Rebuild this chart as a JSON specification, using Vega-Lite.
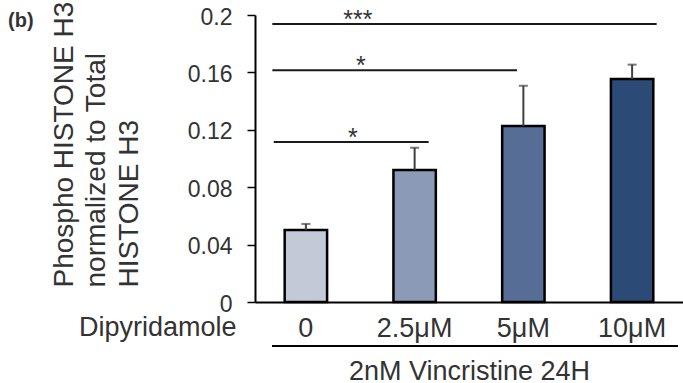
{
  "$schema": "https://vega.github.io/schema/vega-lite/v6.json",
  "width": 428,
  "height": 287,
  "autosize": {"type": "none"},
  "padding": {"left": 255, "top": 15, "right": 0, "bottom": 81},
  "background": "white",
  "title": {
    "text": "(b)",
    "anchor": "start",
    "frame": "group",
    "orient": "top",
    "offset": 0,
    "baseline": "alphabetic",
    "dx": -247,
    "dy": 46,
    "fontSize": 20,
    "fontWeight": "bold",
    "color": "#333",
    "font": "Liberation Sans"
  },
  "config": {
    "view": {"stroke": null},
    "font": "Liberation Sans",
    "axis": {
      "grid": false,
      "domainColor": "#000",
      "tickColor": "#000",
      "labelColor": "#333",
      "titleColor": "#333",
      "labelFont": "Liberation Sans",
      "titleFont": "Liberation Sans",
      "titleFontWeight": "normal"
    }
  },
  "datasets": {
    "bars": [
      {"dose": "0", "value": 0.0502, "err": 0.0544},
      {"dose": "2.5μM", "value": 0.092, "err": 0.1075},
      {"dose": "5μM", "value": 0.1226, "err": 0.1507},
      {"dose": "10μM", "value": 0.1554, "err": 0.1654}
    ],
    "brackets": [
      {"from": 0.162, "to": 3.754, "level": 0.1937, "sig": "***", "at": 0.961},
      {"from": 0.162, "to": 2.449, "level": 0.1615, "sig": "*", "at": 0.989},
      {"from": 0.175, "to": 1.623, "level": 0.1115, "sig": "*", "at": 0.914}
    ]
  },
  "layer": [
    {
      "data": {"name": "bars"},
      "encoding": {
        "x": {
          "field": "dose",
          "type": "nominal",
          "sort": null,
          "scale": {"paddingInner": 0.61, "paddingOuter": 0.273},
          "axis": {
            "orient": "bottom",
            "labelAngle": 0,
            "labelFontSize": 27,
            "labelBaseline": "alphabetic",
            "labelPadding": 34,
            "ticks": false,
            "tickSize": 0,
            "domainWidth": 2,
            "title": "2nM Vincristine 24H",
            "titleFontSize": 27,
            "titleBaseline": "alphabetic",
            "titleAlign": "center",
            "titleX": 214,
            "titleY": 77
          }
        }
      },
      "layer": [
        {
          "mark": {"type": "bar", "stroke": "#000", "strokeWidth": 2.5},
          "encoding": {
            "y": {
              "field": "value",
              "type": "quantitative",
              "scale": {"domain": [0, 0.2], "nice": false, "zero": true},
              "axis": {
                "orient": "left",
                "values": [0, 0.04, 0.08, 0.12, 0.16, 0.2],
                "format": "~g",
                "tickSize": 8,
                "tickWidth": 1.5,
                "domainWidth": 2,
                "labelFontSize": 23,
                "labelPadding": 15,
                "labelOffset": 2,
                "title": ["Phospho HISTONE H3", "normalized to Total", "HISTONE H3"],
                "titleFontSize": 28,
                "titleLimit": 400,
                "titleAngle": -90,
                "titleAlign": "left",
                "titleBaseline": "alphabetic",
                "titleLineHeight": 32.5,
                "titleX": -183,
                "titleY": 272
              }
            },
            "color": {
              "field": "dose",
              "type": "nominal",
              "sort": null,
              "scale": {"range": ["#c3cad7", "#8b9ab7", "#566e96", "#2b4a76"]},
              "legend": null
            }
          }
        },
        {
          "mark": {"type": "rule", "color": "#404040", "strokeWidth": 2},
          "encoding": {
            "y": {"field": "value", "type": "quantitative", "axis": null},
            "y2": {"field": "err"}
          }
        },
        {
          "mark": {"type": "tick", "color": "#404040", "thickness": 2, "size": 9, "orient": "horizontal"},
          "encoding": {
            "y": {"field": "err", "type": "quantitative", "axis": null}
          }
        }
      ],
      "resolve": {"axis": {"y": "independent"}}
    },
    {
      "layer": [
        {
          "data": {"name": "brackets"},
          "mark": {"type": "rule", "color": "#1a1a1a", "strokeWidth": 2},
          "encoding": {
            "x": {"field": "from", "type": "quantitative", "scale": {"domain": [0, 4], "nice": false, "zero": false}, "axis": null},
            "x2": {"field": "to"},
            "y": {"field": "level", "type": "quantitative", "axis": null}
          }
        },
        {
          "data": {"name": "brackets"},
          "mark": {"type": "text", "fontSize": 25, "color": "#333", "align": "center", "baseline": "alphabetic", "dy": 4},
          "encoding": {
            "x": {"field": "at", "type": "quantitative", "axis": null},
            "y": {"field": "level", "type": "quantitative", "axis": null},
            "text": {"field": "sig"}
          }
        },
        {
          "data": {"values": [{"group": "2nM Vincristine 24H"}]},
          "mark": {"type": "rule", "color": "#000", "strokeWidth": 2},
          "encoding": {
            "x": {"datum": 0.159, "type": "quantitative", "axis": null},
            "x2": {"datum": 3.953},
            "y": {"datum": -0.0307, "type": "quantitative", "axis": null}
          }
        },
        {
          "data": {"values": [{"label": "Dipyridamole"}]},
          "mark": {"type": "text", "fontSize": 27, "color": "#333", "align": "right", "baseline": "alphabetic"},
          "encoding": {
            "x": {"datum": -0.173, "type": "quantitative", "axis": null},
            "y": {"datum": -0.0237, "type": "quantitative", "axis": null},
            "text": {"field": "label"}
          }
        }
      ],
      "resolve": {"axis": {"y": "independent"}}
    }
  ],
  "resolve": {"scale": {"x": "independent"}, "axis": {"y": "independent"}}
}
